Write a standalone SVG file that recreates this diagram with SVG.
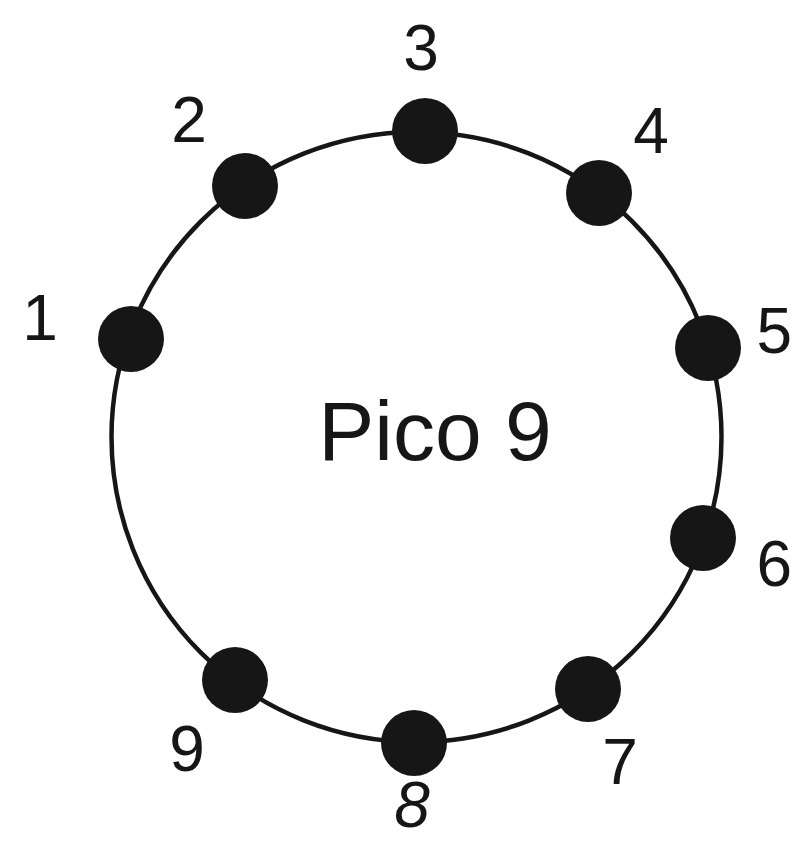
<svg xmlns="http://www.w3.org/2000/svg" width="793" height="842" viewBox="0 0 793 842">
<style>
.pin{fill:#161616;}
.lbl{font-family:"Liberation Sans",Arial,sans-serif;font-size:64px;fill:#161616;text-anchor:middle;}
.edge{text-anchor:end;}
.title{font-family:"Liberation Sans",Arial,sans-serif;font-size:84px;fill:#161616;text-anchor:middle;}
.ring{fill:none;stroke:#161616;stroke-width:4.5;}
</style>
<rect width="793" height="842" fill="#ffffff"/>
<g id="connectors">
<circle class="ring" cx="416.5" cy="437" r="305"/>
</g>
<g id="pin1"><circle class="pin" cx="131" cy="339" r="33"/><text class="lbl" x="40" y="340">1</text></g>
<g id="pin2"><circle class="pin" cx="245" cy="186" r="33"/><text class="lbl" x="189" y="142">2</text></g>
<g id="pin3"><circle class="pin" cx="425" cy="131" r="33"/><text class="lbl" x="421" y="70">3</text></g>
<g id="pin4"><circle class="pin" cx="599" cy="193" r="33"/><text class="lbl" x="651" y="153">4</text></g>
<g id="pin5"><circle class="pin" cx="708" cy="348" r="33"/><text class="lbl edge" x="792" y="353">5</text></g>
<g id="pin6"><circle class="pin" cx="703" cy="538" r="33"/><text class="lbl edge" x="792" y="586">6</text></g>
<g id="pin7"><circle class="pin" cx="588" cy="689" r="33"/><text class="lbl" x="620" y="784">7</text></g>
<g id="pin8"><circle class="pin" cx="414" cy="743" r="33"/><text class="lbl" x="412" y="827" font-style="italic">8</text></g>
<g id="pin9"><circle class="pin" cx="235" cy="680" r="33"/><text class="lbl" x="187" y="771">9</text></g>
<g id="label"><text class="title" x="435" y="460">Pico 9</text></g>
</svg>
